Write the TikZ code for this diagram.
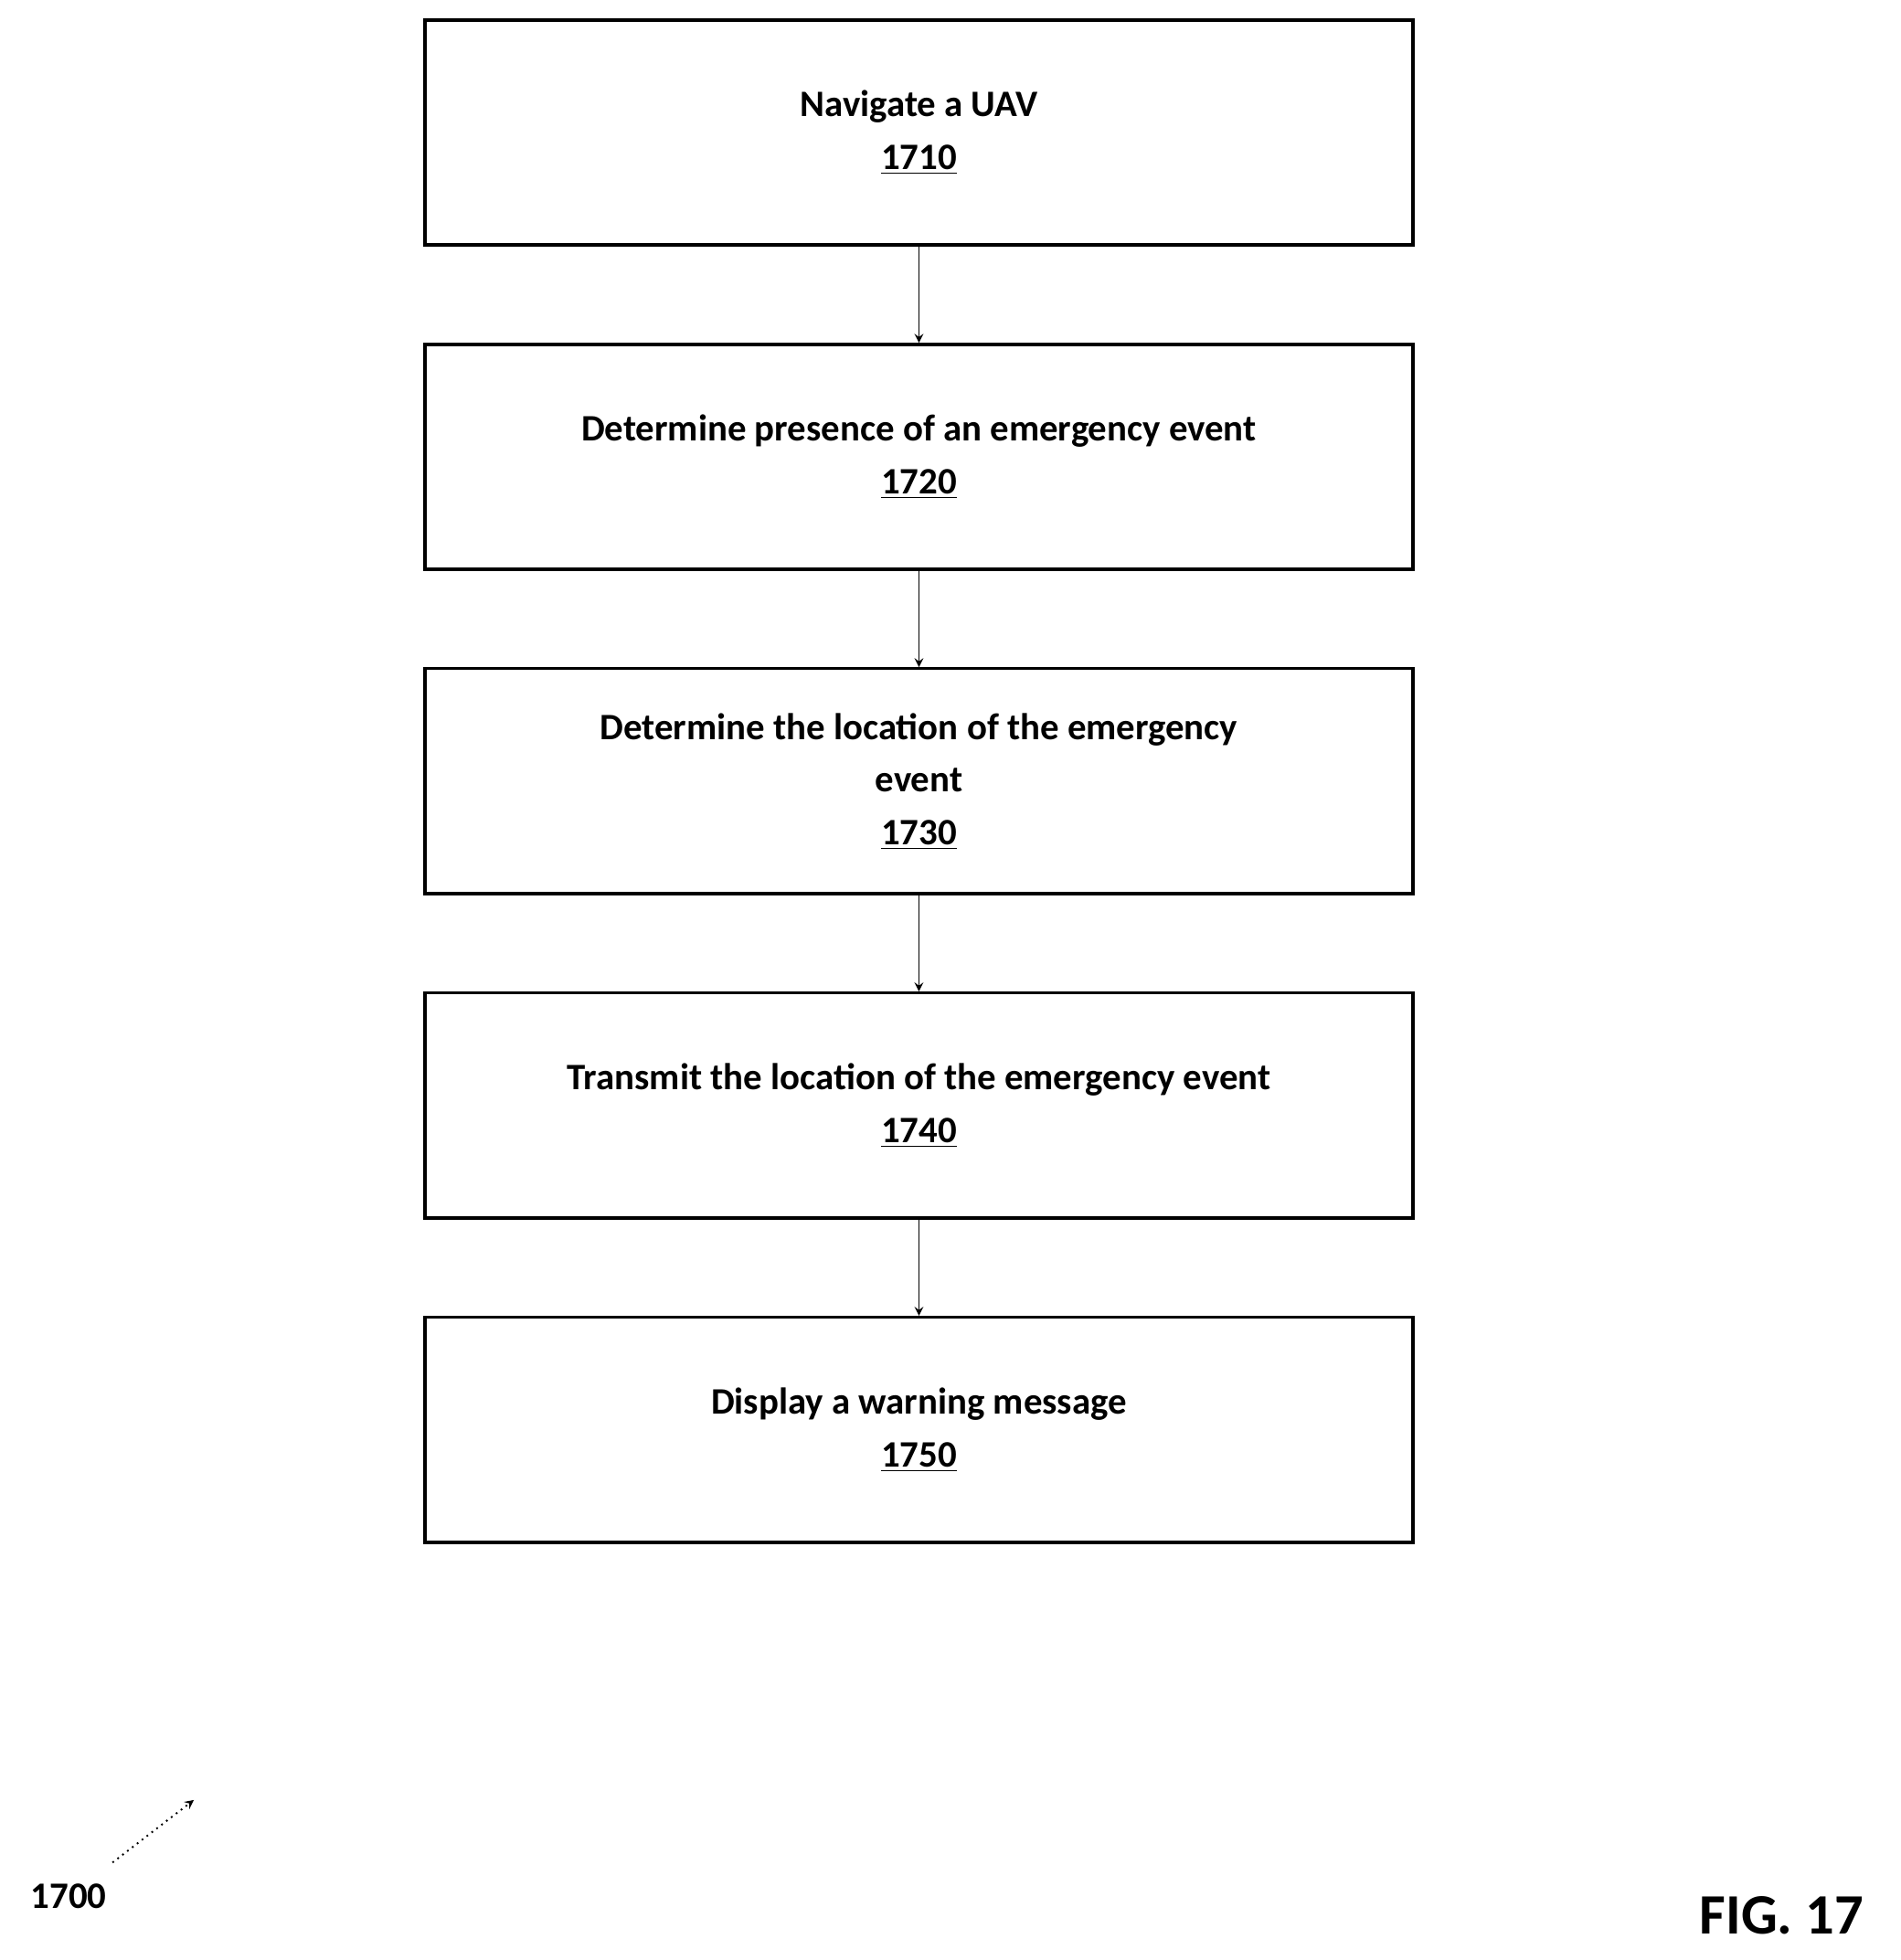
\documentclass[tikz,border=0pt]{standalone}
\usepackage{fontspec}
\setmainfont{Carlito}
\usetikzlibrary{positioning}
\tikzset{
  stepbox/.style={draw, line width=1.4pt, minimum width=15.8cm, minimum height=3.6cm,
    align=center, font=\bfseries\fontsize{17}{24}\selectfont},
  flow/.style={->, >=stealth, line width=0.8pt}
}
\begin{document}
\begin{tikzpicture}
  \useasboundingbox (0,0) rectangle (30.4,-31.36);

  % steps
  \node[stepbox] (s1710) at (14.7,-2.12) {Navigate a UAV\\\underline{1710}};
  \node[stepbox, below=1.54cm of s1710] (s1720) {Determine presence of an emergency event\\\underline{1720}};
  \node[stepbox, below=1.54cm of s1720] (s1730) {Determine the location of the emergency\\event\\\underline{1730}};
  \node[stepbox, below=1.54cm of s1730] (s1740) {Transmit the location of the emergency event\\\underline{1740}};
  \node[stepbox, below=1.54cm of s1740] (s1750) {Display a warning message\\\underline{1750}};

  % arrows
  \draw[flow] (s1710) -- (s1720);
  \draw[flow] (s1720) -- (s1730);
  \draw[flow] (s1730) -- (s1740);
  \draw[flow] (s1740) -- (s1750);

  % labels
  \node[font=\bfseries\fontsize{17}{20}\selectfont] (fig) at (1.1,-30.34) {1700};
  \coordinate (tip) at (3.1,-28.8);
  \draw[->, >=stealth, dotted, line width=0.8pt] (1.8,-29.8) -- (tip);
  \node[font=\bfseries\fontsize{26}{30}\selectfont] (cap) at (28.5,-30.64) {FIG. 17};
\end{tikzpicture}
\end{document}
